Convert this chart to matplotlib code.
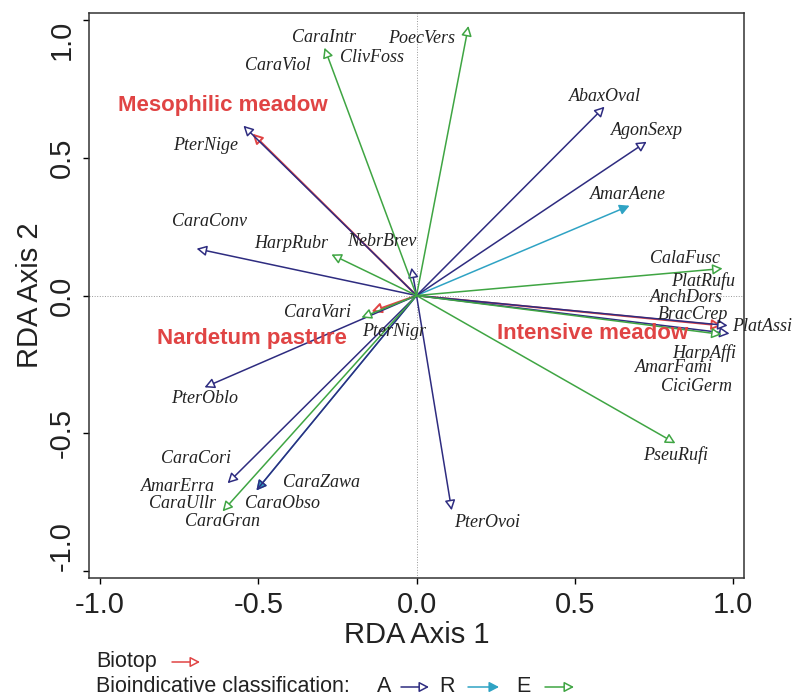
import matplotlib
matplotlib.use("Agg")
import matplotlib.pyplot as plt
from matplotlib.patches import FancyArrowPatch

# arrow tips (RDA axis 1, RDA axis 2)
a_x = [-0.547, -0.695, -0.016, 0.594, 0.727, 0.983, 0.989, -0.670, -0.597, -0.506, 0.111]
a_y = [0.616, 0.170, 0.101, 0.685, 0.558, -0.109, -0.138, -0.333, -0.681, -0.707, -0.779]

e_x = [-0.291, 0.164, -0.269, 0.967, 0.964, 0.818, -0.174, -0.613]
e_y = [0.899, 0.978, 0.149, 0.098, -0.141, -0.536, -0.080, -0.783]

r_x = [0.673, -0.506]
r_y = [0.326, -0.707]

bio_names = ["Mesophilic meadow", "Intensive meadow", "Nardetum pasture"]
bio_x = [-0.518, 0.964, -0.142]
bio_y = [0.587, -0.109, -0.058]
bio_lab_x = [-0.613, 0.556, -0.521]
bio_lab_y = [0.688, -0.138, -0.156]

species = ["CaraIntr", "PoecVers", "ClivFoss", "CaraViol", "PterNige", "CaraConv",
           "HarpRubr", "NebrBrev", "AbaxOval", "AgonSexp", "AmarAene", "CalaFusc",
           "PlatRufu", "AnchDors", "BracCrep", "HarpAffi", "AmarFami", "CiciGerm",
           "PseuRufi", "PterOvoi", "CaraVari", "PterNigr", "PterOblo", "CaraCori",
           "AmarErra", "CaraUllr", "CaraGran", "CaraZawa", "CaraObso"]
sp_x = [-0.291, 0.016, -0.142, -0.439, -0.667, -0.654, -0.395, -0.111, 0.594, 0.727,
        0.667, 0.847, 0.904, 0.853, 0.875, 0.910, 0.815, 0.885, 0.818, 0.224,
        -0.313, -0.070, -0.670, -0.698, -0.755, -0.739, -0.613, -0.300, -0.423]
sp_y = [0.935, 0.931, 0.862, 0.833, 0.543, 0.268, 0.188, 0.196, 0.721, 0.598,
        0.366, 0.134, 0.054, -0.006, -0.067, -0.207, -0.261, -0.330, -0.580, -0.822,
        -0.062, -0.130, -0.373, -0.591, -0.692, -0.754, -0.819, -0.678, -0.754]

ticks = [-1.0, -0.5, 0.0, 0.5, 1.0]
tick_labels = ["-1.0", "-0.5", "0.0", "0.5", "1.0"]

c_a = "#2e2c80"
c_e = "#3fa543"
c_r = "#2fa3c4"
c_bio = "#e04444"

plt.rcParams['font.family'] = ['Liberation Sans', 'DejaVu Sans']

fig = plt.figure(figsize=(7.96, 6.99), dpi=100)
ax = fig.add_axes([0.1118, 0.173, 0.823, 0.8084])
ax.set_xlim(-1.035, 1.035)
ax.set_ylim(-1.025, 1.025)

ax.axhline(0, color="#999999", lw=0.7, ls=":", zorder=0)
ax.axvline(0, color="#999999", lw=0.7, ls=":", zorder=0)


def arrow(x, y, ec, fc, z=2, lw=1.1):
    ax.annotate("", xy=(x, y), xytext=(0, 0),
                arrowprops=dict(arrowstyle="-|>,head_length=0.42,head_width=0.22",
                                ec=ec, fc=fc, lw=lw, mutation_scale=14,
                                shrinkA=0, shrinkB=0), zorder=z)


for x, y in zip(bio_x, bio_y):
    arrow(x, y, c_bio, "white", 2, 1.4)
for x, y in zip(r_x, r_y):
    arrow(x, y, c_r, c_r, 2.5)
for x, y in zip(a_x, a_y):
    # where an A arrow sits on top of an R arrow, let the filled head show
    fill = "none" if (x, y) in zip(r_x, r_y) else "white"
    arrow(x, y, c_a, fill, 3)
for x, y in zip(e_x, e_y):
    arrow(x, y, c_e, "white", 3)

for name, x, y in zip(species, sp_x, sp_y):
    ax.text(x, y, name, family=["Liberation Serif", "DejaVu Serif"], style="italic",
            fontsize=13, color="#222222", ha="center", va="center", zorder=5)
# PlatAssi sticks out over the right border
ax.text(0.997, -0.112, "PlatAssi", family=["Liberation Serif", "DejaVu Serif"],
        style="italic", fontsize=13, color="#222222", ha="left", va="center",
        clip_on=False, zorder=5)

for name, x, y in zip(bio_names, bio_lab_x, bio_lab_y):
    ax.text(x, y, name, fontsize=16, fontweight="bold", color=c_bio,
            ha="center", va="center", zorder=6)

ax.set_xticks(ticks)
ax.set_xticklabels(tick_labels, fontsize=21, color="#222222")
ax.set_yticks(ticks)
ax.set_yticklabels(tick_labels, fontsize=21, rotation=90, va="center", color="#222222")
ylabs = ax.get_yticklabels()
ylabs[0].set_va("bottom")
ylabs[-1].set_va("top")
ax.tick_params(direction="out", length=4.5, width=1, pad=5)
ax.tick_params(axis="y", pad=5)
for s in ax.spines.values():
    s.set_linewidth(1.1)
    s.set_color("#333333")

ax.set_xlabel("RDA Axis 1", fontsize=21, color="#222222")
ax.xaxis.set_label_coords(0.5, -0.076)
ax.set_ylabel("RDA Axis 2", fontsize=21, color="#222222")
ax.yaxis.set_label_coords(-0.068, 0.5)


# legend below the plot, positions in pixels
def fx(px):
    return px / 796.0


def fy(py):
    return 1 - py / 699.0


def leg_arrow(x0, x1, y, ec, fc):
    fig.add_artist(FancyArrowPatch((fx(x0), fy(y)), (fx(x1), fy(y)),
                                   transform=fig.transFigure,
                                   arrowstyle="-|>,head_length=0.42,head_width=0.22",
                                   ec=ec, fc=fc, lw=1.1, mutation_scale=14,
                                   shrinkA=0, shrinkB=0))


fs_leg = 15.5
fig.text(fx(96), fy(662), "Biotop", fontsize=fs_leg, va="center", color="#222222")
leg_arrow(172, 200, 662, c_bio, "white")
fig.text(fx(96), fy(687), "Bioindicative classification:", fontsize=fs_leg,
         va="center", color="#222222")
fig.text(fx(384), fy(687), "A", fontsize=fs_leg, va="center", ha="center", color="#222222")
leg_arrow(401, 429, 687, c_a, "white")
fig.text(fx(447), fy(687), "R", fontsize=fs_leg, va="center", ha="center", color="#222222")
leg_arrow(468, 499, 687, c_r, c_r)
fig.text(fx(523), fy(687), "E", fontsize=fs_leg, va="center", ha="center", color="#222222")
leg_arrow(545, 574, 687, c_e, "white")

fig.savefig("out.png", dpi=100)
